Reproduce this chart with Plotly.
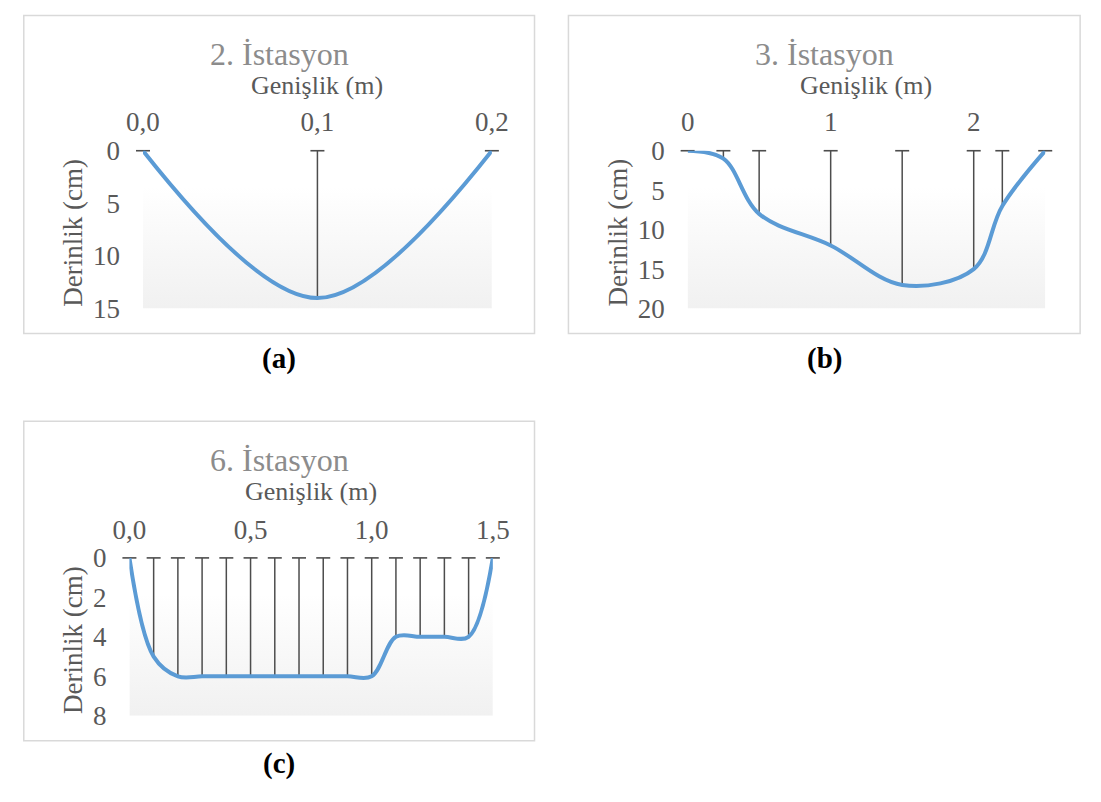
import plotly.graph_objects as go

# Cross-section profiles: width (m) vs depth (cm)
st2_width = [0.0, 0.1, 0.2]
st2_depth = [0, 14, 0]

st3_width = [0.0, 0.25, 0.5, 1.0, 1.5, 2.0, 2.2, 2.5]
st3_depth = [0, 1, 8, 12, 17, 15, 7, 0]

st6_width = [0.0, 0.1, 0.2, 0.3, 0.4, 0.5, 0.6, 0.7, 0.8, 0.9, 1.0,
             1.1, 1.2, 1.3, 1.4, 1.5]
st6_depth = [0, 5, 6, 6, 6, 6, 6, 6, 6, 6, 6, 4, 4, 4, 4, 0]

titles = ["2. İstasyon", "3. İstasyon", "6. İstasyon"]
panel_labels = ["(a)", "(b)", "(c)"]
x_ranges = [[0, 0.2], [0, 2.5], [0, 1.5]]
y_ranges = [[0, 15], [0, 20], [0, 8]]
x_ticks = [[0.0, 0.1, 0.2], [0, 1, 2], [0.0, 0.5, 1.0, 1.5]]
x_formats = [".1f", "d", ".1f"]
y_dticks = [5, 5, 2]

W, H = 1101, 802
FONT = "Liberation Serif, Times New Roman, serif"
LINE_BLUE = "#5b9bd5"
TEXT_GREY = "#595959"
TITLE_GREY = "#8c8c8c"
DROP_GREY = "#4d4d4d"


def px_x(v):
    return v / W


def px_y(v):
    return 1 - v / H


# plot-area pixel boxes (left, right, top, bottom) and outer frames
areas = [(130, 490, 141, 305), (692, 1061, 141, 305), (116, 491, 564, 728)]
frames = [(7, 534, 0.5, 331), (569, 1097, 0.5, 331), (7, 534, 422, 754)]
title_y = [40, 40, 462]
xtitle_y = [73, 73, 495]
ytitle_x = [57, 620, 57]
label_y = [357, 357, 778]

series = [(st2_width, st2_depth), (st3_width, st3_depth), (st6_width, st6_depth)]

fig = go.Figure()
layout = dict(
    width=W, height=H,
    margin=dict(l=0, r=0, t=0, b=0),
    paper_bgcolor="white", plot_bgcolor="rgba(0,0,0,0)",
    showlegend=False, separators=", ",
    font=dict(family=FONT, color=TEXT_GREY),
    annotations=[], shapes=[],
)

for i, ((xs, ys), (l, r, t, b)) in enumerate(zip(series, areas)):
    xa = "x" if i == 0 else f"x{i + 1}"
    ya = "y" if i == 0 else f"y{i + 1}"
    x0, x1 = x_ranges[i]
    y0, y1 = y_ranges[i]

    # gradient plot-area fill spanning the axis ranges
    fig.add_trace(go.Scatter(
        x=[x0, x1, x1, x0, x0], y=[y0, y0, y1, y1, y0],
        xaxis=xa, yaxis=ya, mode="none", fill="toself",
        fillgradient=dict(type="vertical", start=y0, stop=y1,
                          colorscale=[[0, "#ffffff"], [0.22, "#ffffff"],
                                      [1, "#f0f0f0"]]),
        hoverinfo="skip",
    ))

    # drop lines from the surface down to each measured depth
    fig.add_trace(go.Scatter(
        x=xs, y=[0] * len(xs), xaxis=xa, yaxis=ya, mode="markers",
        marker=dict(symbol="line-ew-open", size=10, color=DROP_GREY,
                    line=dict(color=DROP_GREY, width=1.6)),
        error_y=dict(type="data", symmetric=False,
                     array=ys, arrayminus=[0] * len(ys),
                     color=DROP_GREY, thickness=1.5, width=0),
        cliponaxis=False, hoverinfo="skip",
    ))

    # smoothed bed profile
    fig.add_trace(go.Scatter(
        x=xs, y=ys, xaxis=xa, yaxis=ya, mode="lines",
        line=dict(color=LINE_BLUE, width=4, shape="spline", smoothing=1),
        cliponaxis=False, hoverinfo="skip",
    ))

    layout["xaxis" if i == 0 else f"xaxis{i + 1}"] = dict(
        domain=[px_x(l), px_x(r)], anchor=ya, side="top",
        range=[x0, x1], tickvals=x_ticks[i], tickformat=x_formats[i],
        showgrid=False, zeroline=False, showline=False, ticks="",
        tickfont=dict(size=27, color=TEXT_GREY, family=FONT),
        ticklabelstandoff=13,
    )
    layout["yaxis" if i == 0 else f"yaxis{i + 1}"] = dict(
        domain=[px_y(b), px_y(t)], anchor=xa,
        range=[y1, y0], dtick=y_dticks[i],
        showgrid=False, zeroline=False, showline=False, ticks="",
        tickfont=dict(size=27, color=TEXT_GREY, family=FONT),
        ticklabelstandoff=22,
    )

    fl, fr, ft, fb = frames[i]
    layout["shapes"].append(dict(
        type="rect", xref="paper", yref="paper",
        x0=px_x(fl), x1=px_x(fr), y0=px_y(fb), y1=px_y(ft),
        line=dict(color="#d9d9d9", width=1.5), fillcolor="rgba(0,0,0,0)",
        layer="below",
    ))
    layout["annotations"] += [
        dict(text=titles[i], x=px_x((fl + fr) / 2), y=px_y(title_y[i]),
             xref="paper", yref="paper", showarrow=False,
             xanchor="center", yanchor="middle",
             font=dict(size=32, color=TITLE_GREY, family=FONT)),
        dict(text="Genişlik (m)", x=px_x((l + r) / 2), y=px_y(xtitle_y[i]),
             xref="paper", yref="paper", showarrow=False,
             xanchor="center", yanchor="middle",
             font=dict(size=26, color=TEXT_GREY, family=FONT)),
        dict(text="Derinlik (cm)", x=px_x(ytitle_x[i]), y=px_y((t + b) / 2 + 3),
             xref="paper", yref="paper", showarrow=False, textangle=-90,
             xanchor="center", yanchor="middle",
             font=dict(size=27, color=TEXT_GREY, family=FONT)),
        dict(text="<b>" + panel_labels[i] + "</b>", x=px_x((fl + fr) / 2),
             y=px_y(label_y[i]), xref="paper", yref="paper", showarrow=False,
             xanchor="center", yanchor="middle",
             font=dict(size=29, color="black", family=FONT)),
    ]

fig.update_layout(**layout)
fig.write_html("out.html")
